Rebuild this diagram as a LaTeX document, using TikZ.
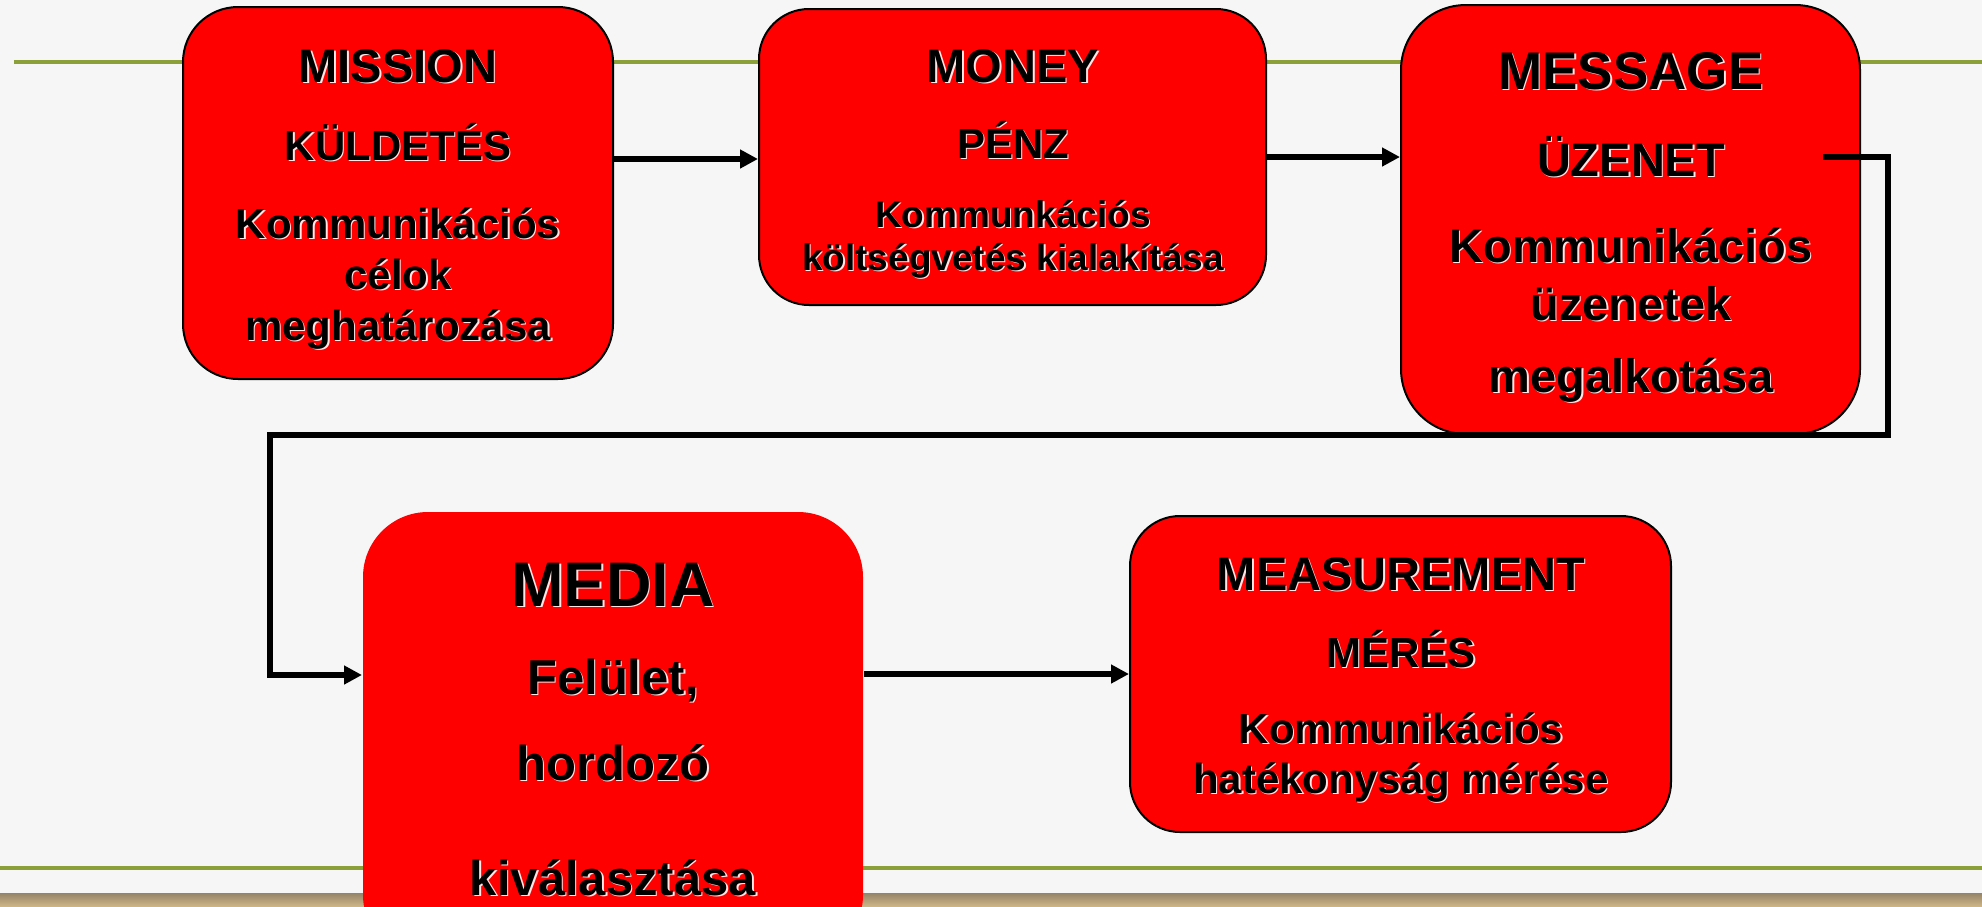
\documentclass[tikz,border=0pt]{standalone}
\usepackage{fontspec}
\setmainfont{Liberation Sans}
\usetikzlibrary{arrows.meta,calc}
\definecolor{bgc}{RGB}{246,246,246}
\definecolor{olivec}{RGB}{140,160,58}
\definecolor{boxred}{RGB}{255,0,0}
\definecolor{shadec}{RGB}{255,228,228}
\definecolor{tantop}{RGB}{150,132,104}
\definecolor{tanbot}{RGB}{204,180,134}
\tikzset{
  box/.style={draw=black, line width=1pt, fill=boxred, inner sep=0pt},
  txt/.style={anchor=base, inner sep=0pt, text=black},
  txtsh/.style={anchor=base, inner sep=0pt, text=shadec},
  conn/.style={line width=3pt, draw=black, line join=miter, -{Triangle[length=9pt,width=9pt]}},
  guide/.style={line width=2pt, draw=olivec}
}
\newcommand\shtxt[5]{%
  \node[txtsh,font={\fontsize{#4pt}{#4pt}\selectfont\bfseries}] (#1s) at ($(#2,#3)+(1.5,1.5)$) {#5};
  \node[txt,font={\fontsize{#4pt}{#4pt}\selectfont\bfseries}] (#1) at (#2,#3) {#5};}
\begin{document}
\begin{tikzpicture}[x=0.5pt,y=-0.5pt]
\useasboundingbox (0,0) rectangle (1982,906);
\clip (0,0) rectangle (1982,906);
\fill[bgc] (0,0) rectangle (1982,906);
% guide lines and bottom band
\draw[guide] (14,62) -- (1982,62);
\draw[guide] (0,868) -- (1982,868);
\shade[top color=tantop, bottom color=tanbot] (0,893) rectangle (1982,906);
% boxes
\node[box, rounded corners=27.5pt, minimum width=215pt, minimum height=186pt] (mission) at (398,193) {};
\node[box, rounded corners=25pt, minimum width=253.5pt, minimum height=148pt] (money) at (1012.5,157) {};
\node[box, rounded corners=32.5pt, minimum width=229.5pt, minimum height=214.5pt] (message) at (1630.5,219.5) {};
\node[box, draw=none, rounded corners=32.5pt, minimum width=250pt, minimum height=224pt] (media) at (613,736) {};
\node[box, rounded corners=25pt, minimum width=270.5pt, minimum height=158pt] (measurement) at (1400.5,674) {};
% connectors
\draw[conn] ([yshift=17pt]mission.east) -- ([yshift=17pt]mission.east -| money.west);
\draw[conn] (money.east) -- (money.east -| message.west);
\coordinate (msgout) at (1823,157);
\coordinate (turnA) at (1888,435);
\coordinate (turnB) at (270,435);
\draw[conn] (msgout) -| (turnA) -- (turnB) |- ([yshift=30.5pt]media.west);
\draw[conn] (media.east |- measurement.west) -- (measurement.west);
% texts
\shtxt{t11}{398}{82}{23.5}{MISSION}
\shtxt{t12}{398}{160}{21}{KÜLDETÉS}
\shtxt{t13}{398}{238}{21}{Kommunikációs}
\shtxt{t14}{398}{289}{21}{célok}
\shtxt{t15}{398}{340}{21}{meghatározása}
\shtxt{t21}{1013}{82}{23.5}{MONEY}
\shtxt{t22}{1013}{158}{21}{PÉNZ}
\shtxt{t23}{1013}{227}{18.5}{Kommunkációs}
\shtxt{t24}{1013}{270}{18.5}{költségvetés kialakítása}
\shtxt{t31}{1631}{89}{26.5}{MESSAGE}
\shtxt{t32}{1631}{176}{23.5}{ÜZENET}
\shtxt{t33}{1631}{262}{23.5}{Kommunikációs}
\shtxt{t34}{1631}{320}{23.5}{üzenetek}
\shtxt{t35}{1631}{392}{23.5}{megalkotása}
\shtxt{t41}{613}{606}{31.5}{MEDIA}
\shtxt{t42}{613}{694}{24.5}{Felület,}
\shtxt{t43}{613}{780}{24.5}{hordozó}
\shtxt{t44}{613}{895}{24.5}{kiválasztása}
\shtxt{t51}{1401}{590}{23.5}{MEASUREMENT}
\shtxt{t52}{1401}{667}{21}{MÉRÉS}
\shtxt{t53}{1401}{743}{21}{Kommunikációs}
\shtxt{t54}{1401}{793}{21}{hatékonyság mérése}
\end{tikzpicture}
\end{document}
